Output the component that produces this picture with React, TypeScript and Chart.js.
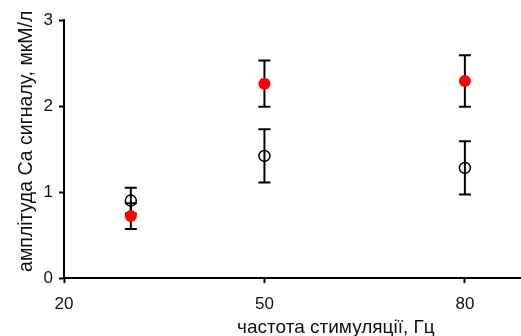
import React, { useEffect, useRef } from "react";
import { Chart, registerables } from "chart.js";

Chart.register(...registerables);

const frequencies = [30, 50, 80];
const openValues = [0.9, 1.42, 1.28];
const openErrors = [0.15, 0.31, 0.31];
const redValues = [0.72, 2.26, 2.29];
const redErrors = [0.15, 0.27, 0.3];
const xTicks = [20, 50, 80];
const yTicks = [0, 1, 2, 3];
const xTitle = "частота стимуляції, Гц";
const yTitle = "амплітуда Са сигналу, мкМ/л";

const FONT = "'Liberation Sans', Arial, sans-serif";

const errorBarPlugin = {
  id: "errorBars",
  beforeDatasetsDraw(chart: any) {
    const ctx = chart.ctx;
    const xs = chart.scales.x;
    const ys = chart.scales.y;
    const sets = [
      { v: redValues, e: redErrors },
      { v: openValues, e: openErrors },
    ];
    ctx.save();
    ctx.strokeStyle = "#000";
    ctx.lineWidth = 2;
    sets.forEach((s) => {
      frequencies.forEach((f, i) => {
        const x = xs.getPixelForValue(f);
        const yTop = ys.getPixelForValue(s.v[i] + s.e[i]);
        const yBot = ys.getPixelForValue(s.v[i] - s.e[i]);
        ctx.beginPath();
        ctx.moveTo(x, yTop);
        ctx.lineTo(x, yBot);
        ctx.moveTo(x - 6, yTop);
        ctx.lineTo(x + 6, yTop);
        ctx.moveTo(x - 6, yBot);
        ctx.lineTo(x + 6, yBot);
        ctx.stroke();
      });
    });
    ctx.restore();
  },
  afterDraw(chart: any) {
    const ctx = chart.ctx;
    const a = chart.chartArea;
    ctx.save();
    ctx.fillStyle = "#111";
    ctx.font = `19px ${FONT}`;
    ctx.textAlign = "center";
    ctx.textBaseline = "alphabetic";
    ctx.fillText(xTitle, a.left + (a.right - a.left) * 0.595, 333);
    ctx.restore();

    ctx.save();
    ctx.fillStyle = "#111";
    ctx.font = `19.5px ${FONT}`;
    ctx.textAlign = "center";
    ctx.textBaseline = "alphabetic";
    ctx.translate(32, a.top + (a.bottom - a.top) * 0.47);
    ctx.rotate(-Math.PI / 2);
    ctx.fillText(yTitle, 0, 0);
    ctx.restore();
  },
};

export default function App() {
  const ref = useRef<HTMLCanvasElement>(null);
  useEffect(() => {
    if (!ref.current) return;
    const chart = new Chart(ref.current, {
      type: "scatter",
      data: {
        datasets: [
          {
            data: frequencies.map((f, i) => ({ x: f, y: openValues[i] })),
            pointRadius: 5.5,
            pointBackgroundColor: "rgba(0,0,0,0)",
            pointBorderColor: "#000",
            pointBorderWidth: 1.5,
          },
          {
            data: frequencies.map((f, i) => ({ x: f, y: redValues[i] })),
            pointRadius: 6,
            pointBackgroundColor: "#ff0000",
            pointBorderColor: "#ff0000",
            pointBorderWidth: 0,
          },
        ],
      },
      options: {
        animation: false,
        responsive: false,
        maintainAspectRatio: false,
        layout: { autoPadding: false, padding: { top: 20, right: 0, bottom: 0, left: 0 } },
        plugins: { legend: { display: false }, tooltip: { enabled: false } },
        scales: {
          x: {
            type: "linear",
            min: 20,
            max: 88.4,
            afterBuildTicks: (s: any) => {
              s.ticks = xTicks.map((v) => ({ value: v }));
            },
            afterFit: (s: any) => {
              s.height = 58;
            },
            border: { display: true, color: "#000", width: 2 },
            grid: {
              display: true,
              drawOnChartArea: false,
              drawTicks: true,
              tickLength: 5,
              tickColor: "#000",
              tickWidth: 2,
            },
            ticks: {
              color: "#111",
              font: { size: 17, family: FONT },
              padding: 11,
              maxRotation: 0,
            },
          },
          y: {
            type: "linear",
            min: 0,
            max: 3,
            afterBuildTicks: (s: any) => {
              s.ticks = yTicks.map((v) => ({ value: v }));
            },
            afterFit: (s: any) => {
              s.width = 64;
            },
            border: { display: true, color: "#000", width: 2 },
            grid: {
              display: true,
              drawOnChartArea: false,
              drawTicks: true,
              tickLength: 5,
              tickColor: "#000",
              tickWidth: 2,
            },
            ticks: {
              color: "#111",
              font: { size: 17, family: FONT },
              padding: 6,
            },
          },
        },
      },
      plugins: [errorBarPlugin],
    });
    return () => chart.destroy();
  }, []);
  return (
    <div style={{ position: "absolute", left: 0, top: 0, width: 521, height: 336, overflow: "hidden", background: "#fff" }}>
      <canvas ref={ref} width={521} height={336} style={{ display: "block" }} />
    </div>
  );
}
